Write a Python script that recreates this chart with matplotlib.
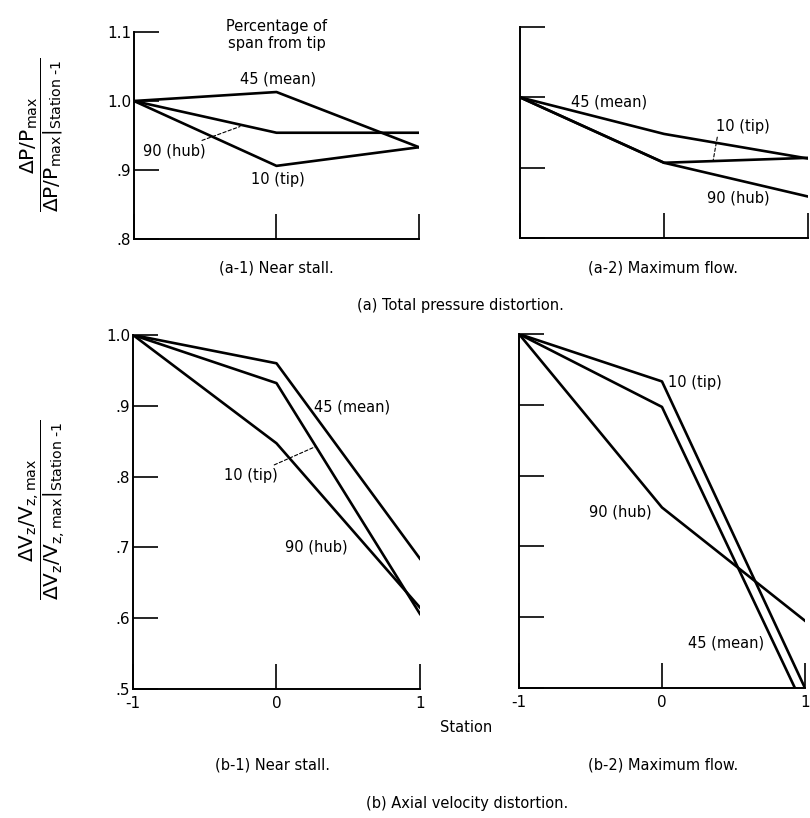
import numpy as np
import matplotlib
matplotlib.use("Agg")
from matplotlib import pyplot as plt

plt.rcParams['font.family'] = ['DejaVu Sans']
plt.rcParams['mathtext.fontset'] = 'dejavusans'

# %%
#---DATA---#
station = [-1, 0, 1]

# (a) total pressure distortion, normalised by value at station -1
a1_tip = [1.0, 0.906, 0.933]
a1_mean = [1.0, 1.013, 0.933]
a1_hub = [1.0, 0.954, 0.954]

a2_tip = [1.0, 0.907, 0.914]
a2_mean = [1.0, 0.948, 0.913]
a2_hub = [1.0, 0.907, 0.859]

# (b) axial velocity distortion
b1_tip = [1.0, 0.932, 0.606]
b1_mean = [1.0, 0.960, 0.684]
b1_hub = [1.0, 0.847, 0.615]

b2_tip = [1.0, 0.933, 0.500]
b2_mean = [1.0, 0.897, 0.470]
b2_hub = [1.0, 0.755, 0.595]

a_yticks = [0.8, 0.9, 1.0, 1.1]
a_ylabels = ['.8', '.9', '1.0', '1.1']
b_yticks = [0.5, 0.6, 0.7, 0.8, 0.9, 1.0]
b_ylabels = ['.5', '.6', '.7', '.8', '.9', '1.0']
xlabels = ['-1', '0', '1']

# %%
#---FIGURE---#
fig = plt.figure(figsize=(8.1, 8.18), dpi=100)
ax1 = fig.add_axes([0.1654, 0.7078, 0.3519, 0.2531])
ax2 = fig.add_axes([0.642, 0.709, 0.3556, 0.258])
ax3 = fig.add_axes([0.1642, 0.1577, 0.3543, 0.4328])
ax4 = fig.add_axes([0.6407, 0.1589, 0.3531, 0.4328])

lw = 1.9
fs = 10.5


def style(ax, ylim, yticks, ylabels, xlab, ylab):
    ax.set_xlim(-1, 1)
    ax.set_ylim(*ylim)
    for s in ['top', 'right']:
        ax.spines[s].set_visible(False)
    for s in ['left', 'bottom']:
        ax.spines[s].set_linewidth(1.4)
    ax.set_xticks(station)
    ax.set_yticks(yticks)
    ax.tick_params(direction='in', length=18, width=1.2, labelsize=fs + 0.5,
                   pad=2)
    ax.tick_params(axis='x', pad=5)
    ax.set_xticklabels(xlabels if xlab else [])
    ax.set_yticklabels(ylabels if ylab else [])


for ax, tip, mean, hub in [(ax1, a1_tip, a1_mean, a1_hub),
                           (ax2, a2_tip, a2_mean, a2_hub),
                           (ax3, b1_tip, b1_mean, b1_hub),
                           (ax4, b2_tip, b2_mean, b2_hub)]:
    ax.plot(station, tip, color='black', lw=lw)
    ax.plot(station, mean, color='black', lw=lw)
    ax.plot(station, hub, color='black', lw=lw)

style(ax1, (0.8, 1.1), a_yticks, a_ylabels, False, True)
style(ax2, (0.8, 1.1), a_yticks, a_ylabels, False, False)
style(ax3, (0.5, 1.0), b_yticks, b_ylabels, True, True)
style(ax4, (0.5, 1.0), b_yticks, b_ylabels, True, False)

leader = dict(arrowstyle='-', linestyle=(0, (3, 2)), lw=0.8, color='black',
              shrinkA=0, shrinkB=0)

# (a-1) labels
ax1.text(0.0, 1.096, 'Percentage of\nspan from tip', ha='center', va='center',
         fontsize=fs, linespacing=1.15)
ax1.text(0.01, 1.032, '45 (mean)', ha='center', va='center', fontsize=fs)
ax1.text(0.01, 0.886, '10 (tip)', ha='center', va='center', fontsize=fs)
ax1.annotate('90 (hub)', xy=(-0.256, 0.963), xytext=(-0.5, 0.928),
             ha='right', va='center', fontsize=fs, arrowprops=leader)

# (a-2) labels
ax2.text(-0.38, 0.994, '45 (mean)', ha='center', va='center', fontsize=fs)
ax2.annotate('10 (tip)', xy=(0.34, 0.909), xytext=(0.36, 0.958),
             ha='left', va='center', fontsize=fs,
             arrowprops=dict(leader, connectionstyle='angle,angleA=0,angleB=80'))
ax2.text(0.514, 0.857, '90 (hub)', ha='center', va='center', fontsize=fs)

# (b-1) labels
ax3.text(0.526, 0.898, '45 (mean)', ha='center', va='center', fontsize=fs)
ax3.annotate('10 (tip)', xy=(0.268, 0.842), xytext=(0.01, 0.802),
             ha='right', va='center', fontsize=fs, arrowprops=leader)
ax3.text(0.275, 0.70, '90 (hub)', ha='center', va='center', fontsize=fs)

# (b-2) labels
ax4.text(0.045, 0.932, '10 (tip)', ha='left', va='center', fontsize=fs)
ax4.text(-0.07, 0.749, '90 (hub)', ha='right', va='center', fontsize=fs)
ax4.text(0.45, 0.563, '45 (mean)', ha='center', va='center', fontsize=fs)

# y axis labels
fig.text(0.052, 0.835,
         r'$\dfrac{\Delta \mathrm{P/P_{max}}}{\Delta \mathrm{P/P_{max}}|_{\mathrm{Station}\ \text{-1}}}$',
         rotation=90, ha='center', va='center', fontsize=14.5)
fig.text(0.052, 0.377,
         r'$\dfrac{\Delta \mathrm{V_z/V_{z,max}}}{\Delta \mathrm{V_z/V_{z,max}}|_{\mathrm{Station}\ \text{-1}}}$',
         rotation=90, ha='center', va='center', fontsize=14.5)

# captions
fig.text(0.341, 0.672, '(a-1) Near stall.', ha='center', va='center', fontsize=fs)
fig.text(0.819, 0.672, '(a-2) Maximum flow.', ha='center', va='center', fontsize=fs)
fig.text(0.568, 0.627, '(a) Total pressure distortion.', ha='center', va='center',
         fontsize=fs)
fig.text(0.576, 0.111, 'Station', ha='center', va='center', fontsize=fs)
fig.text(0.337, 0.065, '(b-1) Near stall.', ha='center', va='center', fontsize=fs)
fig.text(0.819, 0.065, '(b-2) Maximum flow.', ha='center', va='center', fontsize=fs)
fig.text(0.577, 0.018, '(b) Axial velocity distortion.', ha='center', va='center',
         fontsize=fs)

fig.savefig('out.png', dpi=100)
